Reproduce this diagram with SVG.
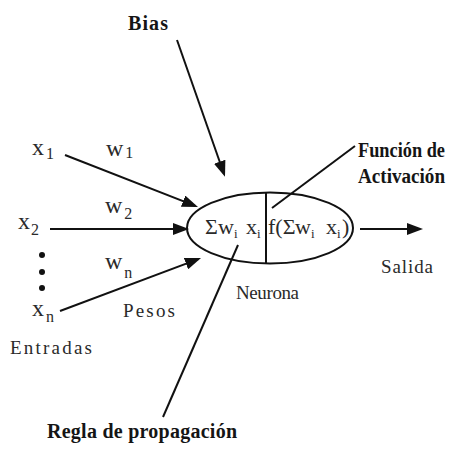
<svg xmlns="http://www.w3.org/2000/svg" width="452" height="450" viewBox="0 0 452 450">
<style>
.t{font-family:"Liberation Serif","Times New Roman",serif;font-size:19px;fill:#2a2a2a}
.v{font-family:"Liberation Serif","Times New Roman",serif;font-size:24px;fill:#2a2a2a}
.b{font-family:"Liberation Serif","Times New Roman",serif;font-size:20px;font-weight:bold;fill:#151515}
.s{font-size:16px}
.e{font-family:"Liberation Serif","Times New Roman",serif;font-size:22px;fill:#2a2a2a}
.es{font-size:13px}
.ln{stroke:#111;stroke-width:2;fill:none}
.ar{stroke:#111;stroke-width:2;fill:none;marker-end:url(#ah)}
</style>
<defs>
<marker id="ah" viewBox="0 0 16 12" refX="13" refY="6" markerWidth="16" markerHeight="12" markerUnits="userSpaceOnUse" orient="auto">
<path d="M0,0 L16,6 L0,12 Z" fill="#111"/>
</marker>
</defs>
<rect width="452" height="450" fill="#fff"/>
<g id="connectors">
<line class="ar" x1="177" y1="40" x2="224" y2="174"/>
<line class="ar" x1="65" y1="155" x2="195.2" y2="205.9"/>
<line class="ar" x1="50" y1="229" x2="186" y2="229"/>
<line class="ar" x1="60" y1="311" x2="198.2" y2="259.1"/>
<line class="ar" x1="360" y1="229" x2="420" y2="229"/>
<line class="ln" x1="355" y1="146" x2="272" y2="208"/>
<line class="ln" x1="163" y1="417" x2="238" y2="245"/>
</g>
<g id="neurona">
<ellipse class="ln" cx="270" cy="228" rx="83" ry="35.5"/>
<line class="ln" x1="266" y1="192.5" x2="266" y2="263.5"/>
<text class="e" y="234"><tspan x="205">Σ</tspan><tspan x="218">w</tspan><tspan x="234" dy="4" class="es">i</tspan><tspan x="246" dy="-4">x</tspan><tspan x="257" dy="4" class="es">i</tspan></text>
<text class="e" y="234"><tspan x="268">f(Σ</tspan><tspan x="295">w</tspan><tspan x="311" dy="4" class="es">i</tspan><tspan x="326" dy="-4">x</tspan><tspan x="337" dy="4" class="es">i</tspan><tspan x="342" dy="-4">)</tspan></text>
<text class="t" x="236" y="299" textLength="63" lengthAdjust="spacing">Neurona</text>
</g>
<g id="bias"><text class="b" x="128" y="30" textLength="40" lengthAdjust="spacing">Bias</text></g>
<g id="funcion"><text class="b" x="358" y="157" textLength="87" lengthAdjust="spacingAndGlyphs">Función de</text><text class="b" x="358" y="183" textLength="87" lengthAdjust="spacingAndGlyphs">Activación</text></g>
<g id="regla"><text class="b" x="47" y="438" textLength="190" lengthAdjust="spacing">Regla de propagación</text></g>
<g id="x1"><text class="v" x="32" y="155">x<tspan class="s" dx="2" dy="4">1</tspan></text></g>
<g id="w1"><text class="v" x="106" y="156">w<tspan class="s" dx="2" dy="2">1</tspan></text></g>
<g id="x2"><text class="v" x="18" y="229">x<tspan class="s" dx="1" dy="6">2</tspan></text></g>
<g id="w2"><text class="v" x="105" y="213">w<tspan class="s" dx="2" dy="6">2</tspan></text></g>
<g id="dots"><circle cx="42" cy="255" r="3" fill="#111"/><circle cx="42" cy="272" r="3" fill="#111"/><circle cx="42" cy="288" r="3" fill="#111"/></g>
<g id="wn"><text class="v" x="105" y="269">w<tspan class="s" dx="2" dy="9">n</tspan></text></g>
<g id="xn"><text class="v" x="32" y="316">x<tspan class="s" dx="2" dy="6">n</tspan></text></g>
<g id="pesos"><text class="t" x="123" y="317" textLength="52" lengthAdjust="spacing">Pesos</text></g>
<g id="entradas"><text class="t" x="10" y="354" textLength="82" lengthAdjust="spacing">Entradas</text></g>
<g id="salida"><text class="t" x="381" y="273" textLength="52" lengthAdjust="spacing">Salida</text></g>
</svg>
